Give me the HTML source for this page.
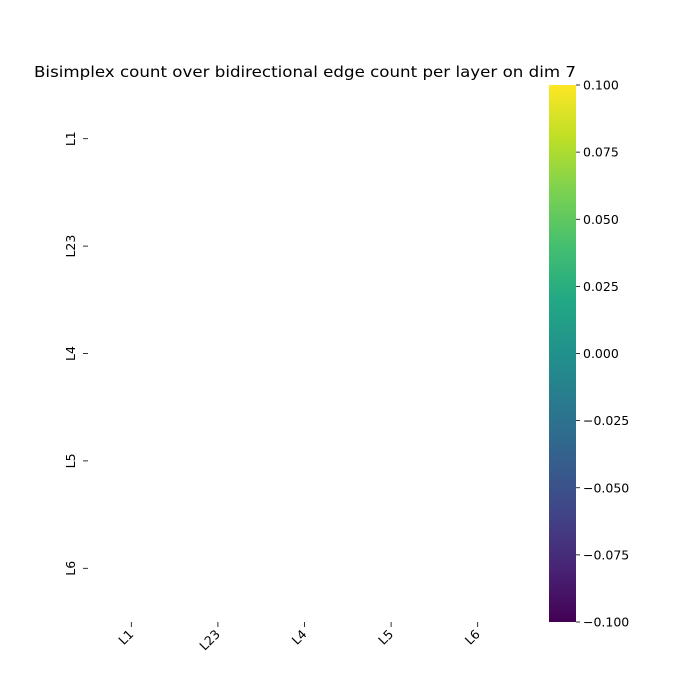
<!DOCTYPE html>
<html><head><meta charset="utf-8"><style>
html,body{margin:0;padding:0;background:#fff;}
svg{display:block;font-family:"DejaVu Sans","Liberation Sans",sans-serif;}
</style></head><body>
<svg id="chart" width="700" height="700" viewBox="0 0 700 700">
<defs>
<linearGradient id="viridis" x1="0" y1="1" x2="0" y2="0">
<stop offset="0" stop-color="#440154"/><stop offset="0.1" stop-color="#482475"/>
<stop offset="0.2" stop-color="#414487"/><stop offset="0.3" stop-color="#355f8d"/>
<stop offset="0.4" stop-color="#2a788e"/><stop offset="0.5" stop-color="#21918c"/>
<stop offset="0.6" stop-color="#22a884"/><stop offset="0.7" stop-color="#44bf70"/>
<stop offset="0.8" stop-color="#7ad151"/><stop offset="0.9" stop-color="#bddf26"/>
<stop offset="1" stop-color="#fde725"/>
</linearGradient>
</defs>
<text x="34" y="77" font-size="15.5" textLength="542" lengthAdjust="spacingAndGlyphs">Bisimplex count over bidirectional edge count per layer on dim 7</text>
<g id="cells"></g>
<g id="xaxis"></g>
<g id="yaxis"></g>
<rect x="549" y="85" width="27" height="537" fill="url(#viridis)"/>
<g id="cbaxis"></g>
</svg>
<script>
const rowLabels = ["L1","L23","L4","L5","L6"];
const colLabels = ["L1","L23","L4","L5","L6"];
const values = [
  [null,null,null,null,null],
  [null,null,null,null,null],
  [null,null,null,null,null],
  [null,null,null,null,null],
  [null,null,null,null,null]
];
const cbTicks = [0.1,0.075,0.05,0.025,0,-0.025,-0.05,-0.075,-0.1];
const cbTickLabels = ["0.100","0.075","0.050","0.025","0.000","\u22120.025","\u22120.050","\u22120.075","\u22120.100"];

const NS="http://www.w3.org/2000/svg";
const leftX=88,topY=85,plotW=433,plotH=537;
const cw=plotW/colLabels.length, rh=plotH/rowLabels.length;
const xPos=i=>leftX+cw*(i+0.5);
const yPos=i=>topY+rh*(i+0.5);
const cbY=v=>622-(v+0.1)/0.2*537;
const stops=["#440154","#482475","#414487","#355f8d","#2a788e","#21918c","#22a884","#44bf70","#7ad151","#bddf26","#fde725"];
const color=v=>stops[Math.max(0,Math.min(10,Math.round((v+0.1)/0.2*10)))];
function mk(tag,attrs,parent){const e=document.createElementNS(NS,tag);for(const k in attrs)e.setAttribute(k,attrs[k]);parent.appendChild(e);return e;}
const cells=document.getElementById('cells');
values.forEach((row,r)=>row.forEach((v,c)=>{
  if(v===null)return;
  const e=mk('rect',{x:leftX+c*cw,y:topY+r*rh,width:cw,height:rh,fill:color(v)},cells);
  
  
}));
const xa=document.getElementById('xaxis');
colLabels.forEach((l,i)=>{
  const x=xPos(i);
  mk('line',{x1:x,y1:622,x2:x,y2:627,stroke:'#000','stroke-width':0.8},xa);
  const t=mk('text',{x:x+3,y:635,'text-anchor':'end','font-size':12.5,transform:`rotate(-45 ${x+3} 635)`},xa);
  t.textContent=l;
  
  
});
const ya=document.getElementById('yaxis');
rowLabels.forEach((l,i)=>{
  const y=yPos(i);
  mk('line',{x1:83,y1:y,x2:88,y2:y,stroke:'#000','stroke-width':0.8},ya);
  const t=mk('text',{x:75,y:y,'text-anchor':'middle','font-size':12.5,transform:`rotate(-90 75 ${y})`},ya);
  t.textContent=l;
  
  
});
const cb=document.getElementById('cbaxis');
cbTicks.forEach((v,i)=>{
  const y=cbY(v);
  mk('line',{x1:576,y1:y,x2:580,y2:y,stroke:'#000','stroke-width':0.8},cb);
  const t=mk('text',{x:583,y:y+4.5,'font-size':12.5},cb);
  t.textContent=cbTickLabels[i];
  
  
});
</script>
</body></html>
